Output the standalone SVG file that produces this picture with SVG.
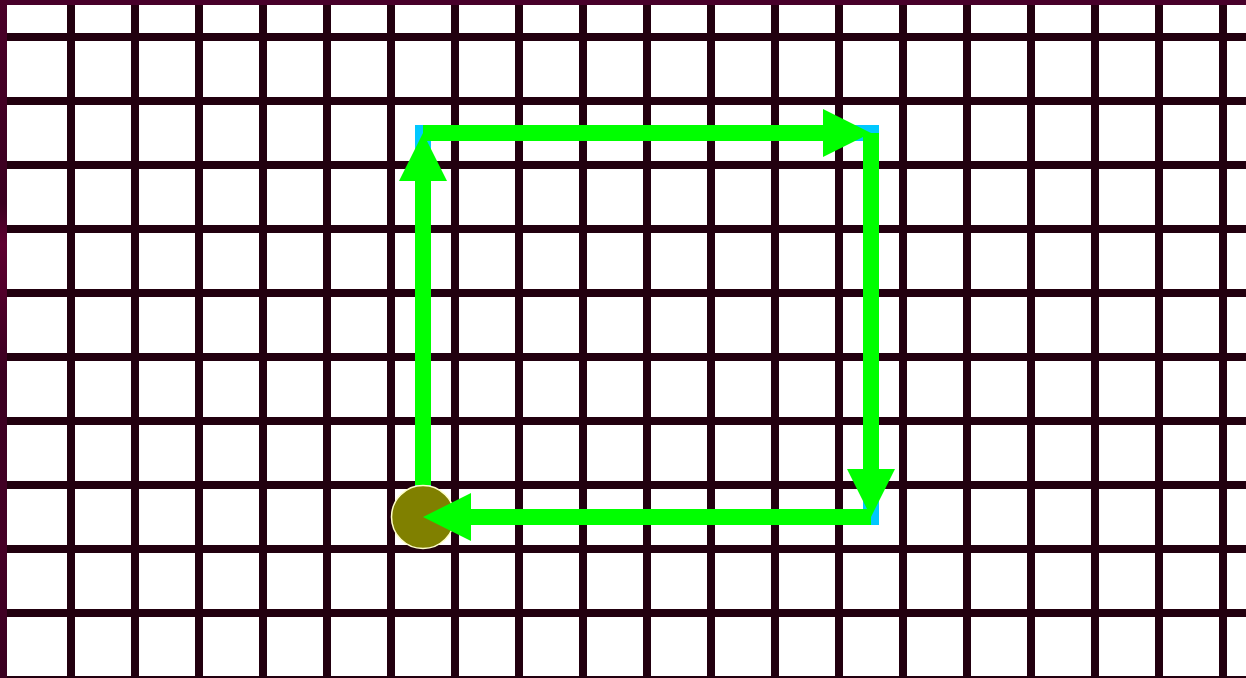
<svg xmlns="http://www.w3.org/2000/svg" width="1246" height="678" viewBox="0 0 1246 678">
  <style>
    .grid { stroke: #22000f; stroke-width: 8; fill: none; }
    .conn { stroke: #00ff00; stroke-width: 16; fill: none; stroke-linecap: butt; marker-end: url(#arrow); }
  </style>
  <defs>
    <marker id="arrow" viewBox="0 0 10 10" refX="0" refY="5" markerWidth="3" markerHeight="3" orient="auto" markerUnits="strokeWidth">
      <path d="M0,0 L10,5 L0,10 Z" fill="#00ff00"/>
    </marker>
    <linearGradient id="edge" x1="0" y1="0" x2="0" y2="1">
      <stop offset="0" stop-color="#4a0028"/>
      <stop offset="0.3" stop-color="#3a0020"/>
      <stop offset="0.36" stop-color="#5e0030"/>
      <stop offset="0.55" stop-color="#3a0020"/>
      <stop offset="0.8" stop-color="#450026"/>
      <stop offset="1" stop-color="#3a0020"/>
    </linearGradient>
  </defs>
  <g id="background">
    <rect x="0" y="0" width="1246" height="678" fill="#ffffff"/>
    <path class="grid" d="M71,5V676 M135,5V676 M199,5V676 M263,5V676 M327,5V676 M391,5V676 M455,5V676 M519,5V676 M583,5V676 M647,5V676 M711,5V676 M775,5V676 M839,5V676 M903,5V676 M967,5V676 M1031,5V676 M1095,5V676 M1159,5V676 M1223,5V676 M7,37H1246 M7,101H1246 M7,165H1246 M7,229H1246 M7,293H1246 M7,357H1246 M7,421H1246 M7,485H1246 M7,549H1246 M7,613H1246"/>
    <rect x="0" y="676" width="1246" height="2" fill="#22000f"/>
    <rect x="0" y="0" width="1246" height="5" fill="#48002a"/>
    <rect x="0" y="0" width="7" height="678" fill="url(#edge)"/>
  </g>
  <g id="frame">
    <rect x="423" y="133" width="448" height="384" fill="none" stroke="#00c8ff" stroke-width="16"/>
  </g>
  <g id="connectors-up">
    <path class="conn" d="M423,485 V181"/>
  </g>
  <g id="start">
    <circle cx="423" cy="517" r="31.5" fill="#808000" stroke="#ffffc8" stroke-width="1.5"/>
  </g>
  <g id="connectors">
    <path class="conn" d="M423,133 H823"/>
    <path class="conn" d="M871,133 V469"/>
    <path class="conn" d="M871,517 H471"/>
  </g>
</svg>
